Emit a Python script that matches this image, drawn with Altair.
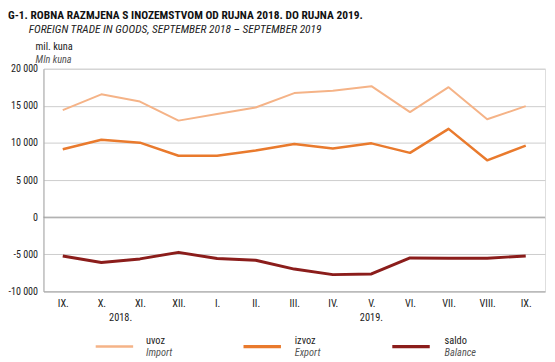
import altair as alt
import pandas as pd

# ---- data ----
months = ["IX.", "X.", "XI.", "XII.", "I.", "II.", "III.", "IV.", "V.", "VI.", "VII.", "VIII.", "IX."]
years = ["2018."] * 4 + ["2019."] * 9
uvoz = [14430, 16550, 15580, 13010, 13900, 14780, 16720, 17030, 17650, 14160, 17520, 13190, 14960]
izvoz = [9160, 10440, 10040, 8280, 8280, 8980, 9870, 9250, 9950, 8670, 11900, 7660, 9650]
saldo = [-5220, -6110, -5620, -4735, -5575, -5800, -6990, -7740, -7650, -5490, -5530, -5530, -5220]

series_keys = ["uvoz", "izvoz", "saldo"]
series_en = ["Import", "Export", "Balance"]
series_colors = ["#f5b387", "#e97a2d", "#8b1d1b"]
series_widths = [2, 3, 3]

title_text = "G-1.  ROBNA RAZMJENA S INOZEMSTVOM OD RUJNA 2018. DO RUJNA 2019."
subtitle_text = "FOREIGN TRADE IN GOODS, SEPTEMBER 2018 \u2013 SEPTEMBER 2019"
unit_hr = "mil. kuna"
unit_en = "Mln kuna"
y_ticks = [-10000, -5000, 0, 5000, 10000, 15000, 20000]

FONT = "Roboto Condensed"
W, H = 509, 226

df = pd.DataFrame({"i": list(range(len(months))), "month": months, "year": years,
                   "uvoz": uvoz, "izvoz": izvoz, "saldo": saldo})
long = df.melt(id_vars=["i", "month", "year"], value_vars=series_keys,
               var_name="series", value_name="value")
year_pos = df.groupby("year", as_index=False)["i"].mean()

label_expr = "[" + ",".join("'%s'" % m for m in months) + "][datum.value]"
xscale = alt.Scale(domain=[-0.5, len(months) - 0.5])
yscale = alt.Scale(domain=[-10000, 20000], nice=False, zero=False)

xaxis = alt.Axis(values=list(range(len(months))), labelExpr=label_expr, title=None,
                 grid=False, ticks=False, domainColor="#a8a8a8", labelPadding=7,
                 labelOverlap=False, labelFont=FONT, labelFontSize=10.5, labelColor="#222")
yaxis = alt.Axis(values=y_ticks, tickCount=7, title=None, grid=True, gridColor="#cccccc",
                 ticks=False, domainColor="#a8a8a8", labelPadding=6, labelOverlap=False,
                 labelFont=FONT, labelFontSize=10.2, labelColor="#222",
                 labelExpr="(datum.value < 0 ? '-' : '') + replace(format(abs(datum.value), ','), ',', ' ')")

lines = alt.Chart(long).mark_line(strokeJoin="round").encode(
    x=alt.X("i:Q", scale=xscale, axis=xaxis),
    y=alt.Y("value:Q", scale=yscale, axis=yaxis),
    color=alt.Color("series:N", scale=alt.Scale(domain=series_keys, range=series_colors), legend=None),
    strokeWidth=alt.StrokeWidth("series:N", scale=alt.Scale(domain=series_keys, range=series_widths), legend=None),
)

zero = alt.Chart(pd.DataFrame({"value": [0]})).mark_rule(color="#999999", strokeWidth=1).encode(
    y=alt.Y("value:Q", scale=yscale, axis=yaxis))

year_text = alt.Chart(year_pos).mark_text(font=FONT, fontSize=10.5, color="#222", baseline="middle").encode(
    x=alt.X("i:Q", scale=xscale, axis=xaxis), y=alt.value(H + 27), text="year:N")

def txt(s, x, y, size, weight="normal", style="normal", color="#222"):
    return alt.Chart(pd.DataFrame({"t": [s]})).mark_text(
        font=FONT, fontSize=size, fontWeight=weight, fontStyle=style, color=color,
        align="left", baseline="middle").encode(
        x=alt.value(x), y=alt.value(y), text="t:N")

layers = [lines, zero, year_text,
          txt(title_text, -36, -53.5, 11.6, weight="bold", color="#111"),
          txt(subtitle_text, -15, -39.5, 11.6, style="italic", color="#222"),
          txt(unit_hr, -8, -21.5, 10.5, color="#222"),
          txt(unit_en, -8, -9, 10.5, style="italic", color="#555")]

leg_line_x = [53, 203, 354]
leg_text_x = [104, 255, 407]
for k, en, c, w, lx, tx in zip(series_keys, series_en, series_colors, series_widths, leg_line_x, leg_text_x):
    layers.append(alt.Chart(pd.DataFrame({"s": [k]})).mark_rule(color=c, strokeWidth=w + 0.5).encode(
        x=alt.value(lx), x2=alt.value(lx + 38), y=alt.value(282)))
    layers.append(txt(k, tx, 276, 10.5, color="#222"))
    layers.append(txt(en, tx, 288.5, 10.5, style="italic", color="#555"))

chart = alt.layer(*layers).properties(
    width=W, height=H,
    autosize=alt.AutoSizeParams(type="none"),
    padding={"left": 36, "top": 59, "right": 2, "bottom": 69},
).configure_view(strokeWidth=0).configure(background="white")

chart.save("out.html", embed_options={"renderer": "svg", "actions": False})
